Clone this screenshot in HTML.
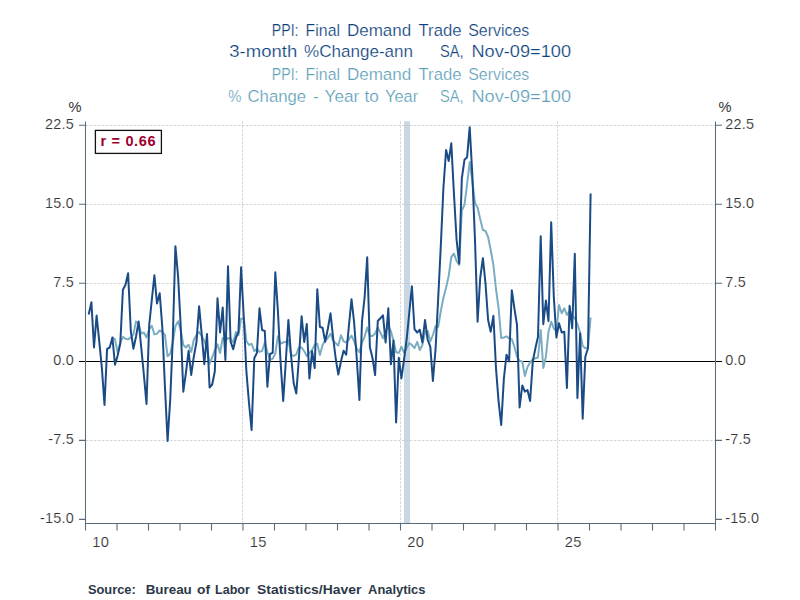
<!DOCTYPE html>
<html><head><meta charset="utf-8"><title>PPI: Final Demand Trade Services</title>
<style>html,body{margin:0;padding:0;background:#fff}body{width:800px;height:600px;position:relative;overflow:hidden}</style>
</head><body>
<svg width="800" height="600" viewBox="0 0 800 600" style="position:absolute;left:0;top:0">
<rect width="800" height="600" fill="#fff"/>
<rect x="404" y="121.3" width="6" height="402.2" fill="#c8d7e4"/>
<line x1="86" x2="715" y1="125.5" y2="125.5" stroke="#c6c6c8" stroke-width="0.75" stroke-dasharray="2.6 1.4"/>
<line x1="86" x2="715" y1="204.5" y2="204.5" stroke="#c6c6c8" stroke-width="0.75" stroke-dasharray="2.6 1.4"/>
<line x1="86" x2="715" y1="283.5" y2="283.5" stroke="#c6c6c8" stroke-width="0.75" stroke-dasharray="2.6 1.4"/>
<line x1="86" x2="715" y1="440.5" y2="440.5" stroke="#c6c6c8" stroke-width="0.75" stroke-dasharray="2.6 1.4"/>
<line x1="242.5" x2="242.5" y1="121.3" y2="523" stroke="#c6c6c8" stroke-width="0.75" stroke-dasharray="2.6 1.4"/>
<line x1="400.5" x2="400.5" y1="121.3" y2="523" stroke="#c6c6c8" stroke-width="0.75" stroke-dasharray="2.6 1.4"/>
<line x1="557.6" x2="557.6" y1="121.3" y2="523" stroke="#c6c6c8" stroke-width="0.75" stroke-dasharray="2.6 1.4"/>
<line x1="79" x2="722" y1="361.4" y2="361.4" stroke="#000" stroke-width="1.05"/>
<path d="M112.4 337.5 L115.0 339.4 L117.6 352.5 L120.3 342.5 L122.9 336.9 L125.5 338.7 L128.1 339.4 L130.8 337.5 L133.4 334.4 L136.0 321.4 L138.6 323.7 L141.3 333.7 L143.9 332.5 L146.5 337.5 L149.2 329.0 L151.8 325.8 L154.4 334.4 L157.0 333.7 L159.7 330.5 L162.3 331.9 L164.9 335.0 L167.6 356.2 L170.2 353.7 L172.8 342.5 L175.4 326.2 L178.1 321.2 L180.7 330.0 L183.3 345.0 L185.9 347.5 L188.6 344.7 L191.2 352.0 L193.8 340.0 L196.5 335.0 L199.1 331.9 L201.7 336.2 L204.3 340.6 L207.0 348.0 L209.6 363.7 L212.2 357.5 L214.8 350.0 L217.5 344.4 L220.1 353.0 L222.7 338.0 L225.4 341.0 L228.0 338.0 L230.6 338.7 L233.2 342.5 L235.9 331.9 L238.5 335.0 L241.1 318.7 L243.8 318.2 L246.4 341.2 L249.0 345.0 L251.6 343.7 L254.3 351.2 L256.9 348.7 L259.5 351.9 L262.1 351.0 L264.8 342.5 L267.4 352.0 L270.0 360.0 L272.7 358.7 L275.3 353.7 L277.9 336.2 L280.5 343.7 L283.2 342.5 L285.8 341.7 L288.4 340.0 L291.0 354.6 L293.7 356.0 L296.3 354.4 L298.9 347.5 L301.6 347.5 L304.2 351.2 L306.8 356.0 L309.4 353.0 L312.1 350.0 L314.7 345.0 L317.3 343.7 L319.9 355.0 L322.6 345.0 L325.2 340.6 L327.8 338.0 L330.5 333.7 L333.1 340.6 L335.7 343.2 L338.3 345.6 L341.0 335.3 L343.6 341.4 L346.2 342.5 L348.9 339.4 L351.5 335.5 L354.1 341.2 L356.7 348.5 L359.4 352.2 L362.0 342.5 L364.6 336.8 L367.2 327.5 L369.9 335.7 L372.5 335.9 L375.1 333.5 L377.8 327.8 L380.4 332.5 L383.0 338.3 L385.6 332.0 L388.3 326.0 L390.9 331.3 L393.5 340.8 L396.1 352.2 L398.8 352.8 L401.4 346.9 L404.0 352.5 L406.7 348.0 L409.3 343.0 L411.9 345.0 L414.5 348.2 L417.2 341.8 L419.8 350.0 L422.4 345.0 L425.0 332.0 L427.7 331.0 L430.3 341.5 L432.9 335.0 L435.6 326.0 L438.2 327.0 L440.8 311.0 L443.4 298.0 L446.1 287.5 L448.7 276.0 L451.3 257.0 L453.9 253.6 L456.6 261.0 L459.2 265.0 L461.8 210.5 L464.5 204.8 L467.1 184.0 L469.7 162.0 L472.3 181.0 L475.0 202.8 L477.6 207.8 L480.2 219.0 L482.9 230.0 L485.5 231.0 L488.1 237.0 L490.7 250.0 L493.4 265.0 L496.0 289.0 L498.6 308.3 L501.2 338.0 L503.9 337.5 L506.5 336.3 L509.1 338.5 L511.8 339.2 L514.4 346.7 L517.0 356.7 L519.6 360.8 L522.3 361.7 L524.9 376.0 L527.5 367.0 L530.1 362.5 L532.8 359.2 L535.4 358.3 L538.0 357.5 L540.7 330.0 L543.3 368.0 L545.9 356.7 L548.5 331.7 L551.2 321.7 L553.8 328.3 L556.4 331.5 L559.0 305.0 L561.7 313.3 L564.3 308.3 L566.9 315.0 L569.6 310.8 L572.2 316.0 L574.8 318.0 L577.4 324.0 L580.1 332.5 L582.7 346.0 L585.3 348.3 L588.0 347.5 L590.6 317.5" fill="none" stroke="#7badc2" stroke-width="2" stroke-linejoin="round" stroke-linecap="butt"/>
<path d="M88.7 314.5 L91.4 302.2 L94.0 347.5 L96.6 315.5 L99.2 340.8 L101.9 368.3 L104.5 405.0 L107.1 348.8 L109.7 347.5 L112.4 337.5 L115.0 364.7 L117.6 355.8 L120.3 343.5 L122.9 289.7 L125.5 284.7 L128.1 273.3 L130.8 331.0 L133.4 348.7 L136.0 336.7 L138.6 321.6 L141.3 348.0 L143.9 375.0 L146.5 404.0 L149.2 325.0 L151.8 300.0 L154.4 275.3 L157.0 303.5 L159.7 293.3 L162.3 327.0 L164.9 386.0 L167.6 441.0 L170.2 400.0 L172.8 338.0 L175.4 246.2 L178.1 276.7 L180.7 326.0 L183.3 391.7 L185.9 373.0 L188.6 350.8 L191.2 375.0 L193.8 356.7 L196.5 341.7 L199.1 306.2 L201.7 334.0 L204.3 364.2 L207.0 334.0 L209.6 387.5 L212.2 384.5 L214.8 371.5 L217.5 298.3 L220.1 332.5 L222.7 307.5 L225.4 360.0 L228.0 266.2 L230.6 341.7 L233.2 349.2 L235.9 338.0 L238.5 331.7 L241.1 267.2 L243.8 318.0 L246.4 371.7 L249.0 403.0 L251.6 430.0 L254.3 358.0 L256.9 353.0 L259.5 308.3 L262.1 330.0 L264.8 331.0 L267.4 386.7 L270.0 354.0 L272.7 352.8 L275.3 272.2 L277.9 311.0 L280.5 360.8 L283.2 401.0 L285.8 361.5 L288.4 320.0 L291.0 355.0 L293.7 383.3 L296.3 393.5 L298.9 358.3 L301.6 316.2 L304.2 342.0 L306.8 324.0 L309.4 378.5 L312.1 351.3 L314.7 368.0 L317.3 289.2 L319.9 327.0 L322.6 327.8 L325.2 341.8 L327.8 329.0 L330.5 313.3 L333.1 337.5 L335.7 358.5 L338.3 374.5 L341.0 361.3 L343.6 350.7 L346.2 354.6 L348.9 326.0 L351.5 299.2 L354.1 322.0 L356.7 357.8 L359.4 400.0 L362.0 321.4 L364.6 297.5 L367.2 257.2 L369.9 347.3 L372.5 358.0 L375.1 375.0 L377.8 321.0 L380.4 318.2 L383.0 315.3 L385.6 342.5 L388.3 308.3 L390.9 364.2 L393.5 340.6 L396.1 422.5 L398.8 357.8 L401.4 378.4 L404.0 360.0 L406.7 339.0 L409.3 312.5 L411.9 286.2 L414.5 329.2 L417.2 332.5 L419.8 329.7 L422.4 342.5 L425.0 320.0 L427.7 340.0 L430.3 346.7 L432.9 381.0 L435.6 348.5 L438.2 298.0 L440.8 246.0 L443.4 188.0 L446.1 150.0 L448.7 161.0 L451.3 143.3 L453.9 193.0 L456.6 240.0 L459.2 263.5 L461.8 178.5 L464.5 159.7 L467.1 157.2 L469.7 127.2 L472.3 174.0 L475.0 240.0 L477.6 321.7 L480.2 278.0 L482.9 258.2 L485.5 283.5 L488.1 320.0 L490.7 331.7 L493.4 315.8 L496.0 368.3 L498.6 401.7 L501.2 425.0 L503.9 378.3 L506.5 354.7 L509.1 361.5 L511.8 290.2 L514.4 308.3 L517.0 325.0 L519.6 407.5 L522.3 385.5 L524.9 391.7 L527.5 390.0 L530.1 401.0 L532.8 361.3 L535.4 348.3 L538.0 336.7 L540.7 236.2 L543.3 324.2 L545.9 300.5 L548.5 321.0 L551.2 222.2 L553.8 296.7 L556.4 337.5 L559.0 323.3 L561.7 332.5 L564.3 331.7 L566.9 388.0 L569.6 305.8 L572.2 328.3 L574.8 253.8 L577.4 398.0 L580.1 333.3 L582.7 418.7 L585.3 356.7 L588.0 348.3 L590.6 193.5" fill="none" stroke="#1b4b85" stroke-width="2" stroke-linejoin="round" stroke-linecap="butt"/>
<path d="M85.5 121.5 V530.5 M715.5 121.5 V530.5 M85.5 523.5 H715.5" stroke="#5a6b7c" stroke-width="1.05" fill="none"/>
<path d="M79 125.3 H85.5 M715.5 125.3 H722" stroke="#5a6b7c" stroke-width="1.1" fill="none"/>
<path d="M79 204.3 H85.5 M715.5 204.3 H722" stroke="#5a6b7c" stroke-width="1.1" fill="none"/>
<path d="M79 283.3 H85.5 M715.5 283.3 H722" stroke="#5a6b7c" stroke-width="1.1" fill="none"/>
<path d="M79 440.4 H85.5 M715.5 440.4 H722" stroke="#5a6b7c" stroke-width="1.1" fill="none"/>
<path d="M79 519.4 H85.5 M715.5 519.4 H722" stroke="#5a6b7c" stroke-width="1.1" fill="none"/>
<line x1="117.0" x2="117.0" y1="523.5" y2="530.5" stroke="#5a6b7c" stroke-width="1.1"/>
<line x1="148.5" x2="148.5" y1="523.5" y2="530.5" stroke="#5a6b7c" stroke-width="1.1"/>
<line x1="180.0" x2="180.0" y1="523.5" y2="530.5" stroke="#5a6b7c" stroke-width="1.1"/>
<line x1="211.5" x2="211.5" y1="523.5" y2="530.5" stroke="#5a6b7c" stroke-width="1.1"/>
<line x1="243.0" x2="243.0" y1="523.5" y2="530.5" stroke="#5a6b7c" stroke-width="1.1"/>
<line x1="274.5" x2="274.5" y1="523.5" y2="530.5" stroke="#5a6b7c" stroke-width="1.1"/>
<line x1="306.0" x2="306.0" y1="523.5" y2="530.5" stroke="#5a6b7c" stroke-width="1.1"/>
<line x1="337.5" x2="337.5" y1="523.5" y2="530.5" stroke="#5a6b7c" stroke-width="1.1"/>
<line x1="369.0" x2="369.0" y1="523.5" y2="530.5" stroke="#5a6b7c" stroke-width="1.1"/>
<line x1="400.5" x2="400.5" y1="523.5" y2="530.5" stroke="#5a6b7c" stroke-width="1.1"/>
<line x1="432.0" x2="432.0" y1="523.5" y2="530.5" stroke="#5a6b7c" stroke-width="1.1"/>
<line x1="463.5" x2="463.5" y1="523.5" y2="530.5" stroke="#5a6b7c" stroke-width="1.1"/>
<line x1="495.0" x2="495.0" y1="523.5" y2="530.5" stroke="#5a6b7c" stroke-width="1.1"/>
<line x1="526.5" x2="526.5" y1="523.5" y2="530.5" stroke="#5a6b7c" stroke-width="1.1"/>
<line x1="558.0" x2="558.0" y1="523.5" y2="530.5" stroke="#5a6b7c" stroke-width="1.1"/>
<line x1="589.5" x2="589.5" y1="523.5" y2="530.5" stroke="#5a6b7c" stroke-width="1.1"/>
<line x1="621.0" x2="621.0" y1="523.5" y2="530.5" stroke="#5a6b7c" stroke-width="1.1"/>
<line x1="652.5" x2="652.5" y1="523.5" y2="530.5" stroke="#5a6b7c" stroke-width="1.1"/>
<line x1="684.0" x2="684.0" y1="523.5" y2="530.5" stroke="#5a6b7c" stroke-width="1.1"/>
<text x="74" y="129.2" text-anchor="end" font-family="Liberation Sans, Arial, sans-serif" font-size="14.4" fill="#333" letter-spacing="0.25" stroke="#fff" stroke-width="0.15" paint-order="fill stroke">22.5</text>
<text x="725.3" y="129.2" text-anchor="start" font-family="Liberation Sans, Arial, sans-serif" font-size="14.4" fill="#333" letter-spacing="0.25" stroke="#fff" stroke-width="0.15" paint-order="fill stroke">22.5</text>
<text x="74" y="208.2" text-anchor="end" font-family="Liberation Sans, Arial, sans-serif" font-size="14.4" fill="#333" letter-spacing="0.25" stroke="#fff" stroke-width="0.15" paint-order="fill stroke">15.0</text>
<text x="725.3" y="208.2" text-anchor="start" font-family="Liberation Sans, Arial, sans-serif" font-size="14.4" fill="#333" letter-spacing="0.25" stroke="#fff" stroke-width="0.15" paint-order="fill stroke">15.0</text>
<text x="74" y="287.2" text-anchor="end" font-family="Liberation Sans, Arial, sans-serif" font-size="14.4" fill="#333" letter-spacing="0.25" stroke="#fff" stroke-width="0.15" paint-order="fill stroke">7.5</text>
<text x="725.3" y="287.2" text-anchor="start" font-family="Liberation Sans, Arial, sans-serif" font-size="14.4" fill="#333" letter-spacing="0.25" stroke="#fff" stroke-width="0.15" paint-order="fill stroke">7.5</text>
<text x="74" y="365.2" text-anchor="end" font-family="Liberation Sans, Arial, sans-serif" font-size="14.4" fill="#333" letter-spacing="0.25" stroke="#fff" stroke-width="0.15" paint-order="fill stroke">0.0</text>
<text x="725.3" y="365.2" text-anchor="start" font-family="Liberation Sans, Arial, sans-serif" font-size="14.4" fill="#333" letter-spacing="0.25" stroke="#fff" stroke-width="0.15" paint-order="fill stroke">0.0</text>
<text x="74" y="444.3" text-anchor="end" font-family="Liberation Sans, Arial, sans-serif" font-size="14.4" fill="#333" letter-spacing="0.25" stroke="#fff" stroke-width="0.15" paint-order="fill stroke">-7.5</text>
<text x="725.3" y="444.3" text-anchor="start" font-family="Liberation Sans, Arial, sans-serif" font-size="14.4" fill="#333" letter-spacing="0.25" stroke="#fff" stroke-width="0.15" paint-order="fill stroke">-7.5</text>
<text x="74" y="523.3" text-anchor="end" font-family="Liberation Sans, Arial, sans-serif" font-size="14.4" fill="#333" letter-spacing="0.25" stroke="#fff" stroke-width="0.15" paint-order="fill stroke">-15.0</text>
<text x="725.3" y="523.3" text-anchor="start" font-family="Liberation Sans, Arial, sans-serif" font-size="14.4" fill="#333" letter-spacing="0.25" stroke="#fff" stroke-width="0.15" paint-order="fill stroke">-15.0</text>
<text x="75" y="111.5" text-anchor="middle" font-family="Liberation Sans, Arial, sans-serif" font-size="14.6" fill="#333">%</text>
<text x="725" y="111.5" text-anchor="middle" font-family="Liberation Sans, Arial, sans-serif" font-size="14.6" fill="#333">%</text>
<text x="100.8" y="547.2" text-anchor="middle" font-family="Liberation Sans, Arial, sans-serif" font-size="14.6" fill="#333" letter-spacing="0.5" stroke="#fff" stroke-width="0.15" paint-order="fill stroke">10</text>
<text x="258.3" y="547.2" text-anchor="middle" font-family="Liberation Sans, Arial, sans-serif" font-size="14.6" fill="#333" letter-spacing="0.5" stroke="#fff" stroke-width="0.15" paint-order="fill stroke">15</text>
<text x="415.8" y="547.2" text-anchor="middle" font-family="Liberation Sans, Arial, sans-serif" font-size="14.6" fill="#333" letter-spacing="0.5" stroke="#fff" stroke-width="0.15" paint-order="fill stroke">20</text>
<text x="573.3" y="547.2" text-anchor="middle" font-family="Liberation Sans, Arial, sans-serif" font-size="14.6" fill="#333" letter-spacing="0.5" stroke="#fff" stroke-width="0.15" paint-order="fill stroke">25</text>
<rect x="95.4" y="130.4" width="66" height="23" fill="#fff" stroke="#111" stroke-width="1.3"/>
<text x="100.6" y="146.3" font-family="Liberation Sans, Arial, sans-serif" font-size="14.5" font-weight="bold" fill="#9e002e" textLength="55" lengthAdjust="spacing">r = 0.66</text>
<text y="35.8" font-family="Liberation Sans, Arial, sans-serif" font-size="16.6" fill="#0c3f7c" stroke="#fff" stroke-width="0.22" paint-order="fill stroke"><tspan x="271.8" textLength="26.7" lengthAdjust="spacingAndGlyphs">PPI:</tspan> <tspan x="305.6" textLength="34.4" lengthAdjust="spacingAndGlyphs">Final</tspan> <tspan x="346.9" textLength="64.4" lengthAdjust="spacingAndGlyphs">Demand</tspan> <tspan x="418.5" textLength="43.0" lengthAdjust="spacingAndGlyphs">Trade</tspan> <tspan x="468.2" textLength="61.0" lengthAdjust="spacingAndGlyphs">Services</tspan></text>
<text y="56.8" font-family="Liberation Sans, Arial, sans-serif" font-size="16.6" fill="#0c3f7c" stroke="#fff" stroke-width="0.22" paint-order="fill stroke"><tspan x="229.3" textLength="67.9" lengthAdjust="spacingAndGlyphs">3-month</tspan> <tspan x="304.0" textLength="109.0" lengthAdjust="spacingAndGlyphs">%Change-ann</tspan> <tspan x="440.0" textLength="23.6" lengthAdjust="spacingAndGlyphs">SA,</tspan> <tspan x="471.5" textLength="99.5" lengthAdjust="spacingAndGlyphs">Nov-09=100</tspan></text>
<text y="79.7" font-family="Liberation Sans, Arial, sans-serif" font-size="16.6" fill="#5f9fba" stroke="#fff" stroke-width="0.22" paint-order="fill stroke"><tspan x="271.8" textLength="26.7" lengthAdjust="spacingAndGlyphs">PPI:</tspan> <tspan x="305.6" textLength="34.4" lengthAdjust="spacingAndGlyphs">Final</tspan> <tspan x="346.9" textLength="64.4" lengthAdjust="spacingAndGlyphs">Demand</tspan> <tspan x="418.5" textLength="43.0" lengthAdjust="spacingAndGlyphs">Trade</tspan> <tspan x="468.2" textLength="61.0" lengthAdjust="spacingAndGlyphs">Services</tspan></text>
<text y="101.9" font-family="Liberation Sans, Arial, sans-serif" font-size="16.6" fill="#5f9fba" stroke="#fff" stroke-width="0.22" paint-order="fill stroke"><tspan x="228.2" textLength="13.2" lengthAdjust="spacingAndGlyphs">%</tspan> <tspan x="247.5" textLength="58.7" lengthAdjust="spacingAndGlyphs">Change</tspan> <tspan x="313.2" textLength="5.2" lengthAdjust="spacingAndGlyphs">-</tspan> <tspan x="324.5" textLength="34.8" lengthAdjust="spacingAndGlyphs">Year</tspan> <tspan x="364.5" textLength="14.3" lengthAdjust="spacingAndGlyphs">to</tspan> <tspan x="385.0" textLength="33.2" lengthAdjust="spacingAndGlyphs">Year</tspan> <tspan x="440.0" textLength="23.6" lengthAdjust="spacingAndGlyphs">SA,</tspan> <tspan x="471.5" textLength="99.5" lengthAdjust="spacingAndGlyphs">Nov-09=100</tspan></text>
<text y="594.1" font-family="Liberation Sans, Arial, sans-serif" font-size="12.9" fill="#2c3848" font-weight="bold"><tspan x="87.9" textLength="47.9" lengthAdjust="spacingAndGlyphs">Source:</tspan> <tspan x="145.7" textLength="46.1" lengthAdjust="spacingAndGlyphs">Bureau</tspan> <tspan x="197.0" textLength="13.0" lengthAdjust="spacingAndGlyphs">of</tspan> <tspan x="215.0" textLength="34.9" lengthAdjust="spacingAndGlyphs">Labor</tspan> <tspan x="257.0" textLength="104.4" lengthAdjust="spacingAndGlyphs">Statistics/Haver</tspan> <tspan x="368.1" textLength="57.4" lengthAdjust="spacingAndGlyphs">Analytics</tspan></text>
</svg>
</body></html>
